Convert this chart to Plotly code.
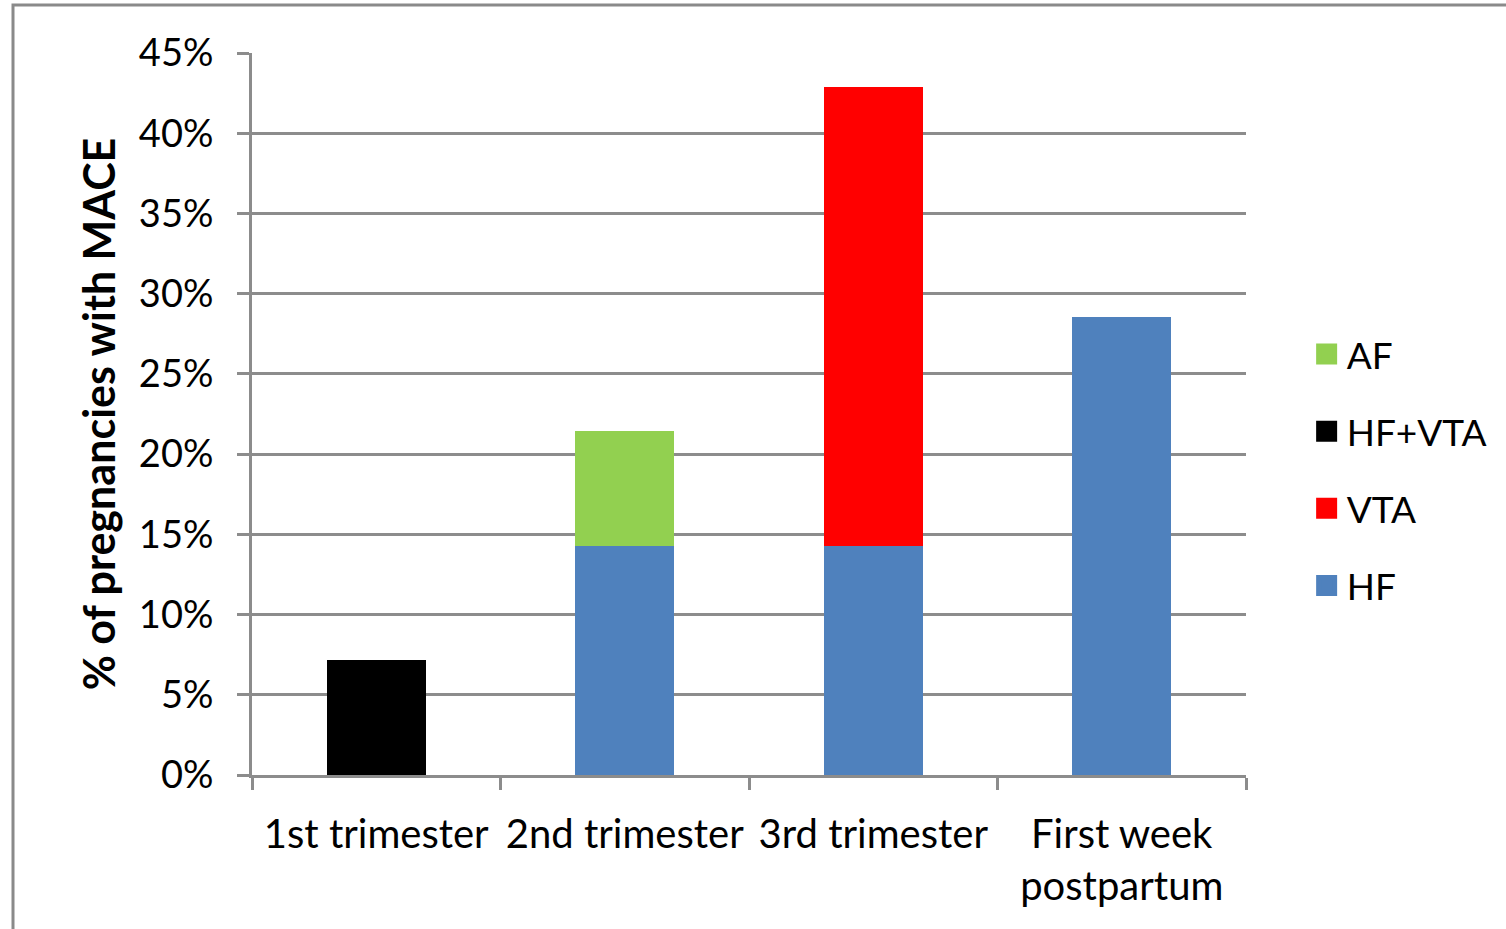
import plotly.graph_objects as go

# Share of pregnancies with a major adverse cardiac event, by period
periods = ["1st trimester", "2nd trimester", "3rd trimester", "First week<br>postpartum"]
hf = [0, 14.29, 14.29, 28.57]
vta = [0, 0, 28.57, 0]
hf_vta = [7.14, 0, 0, 0]
af = [0, 7.14, 0, 0]
y_ticks = [0, 5, 10, 15, 20, 25, 30, 35, 40, 45]
y_tick_text = [f"{v}%" for v in y_ticks]

series = [
    ("HF", hf, "#4f81bd"),
    ("VTA", vta, "#ff0000"),
    ("HF+VTA", hf_vta, "#000000"),
    ("AF", af, "#92d050"),
]

FONT = "Lato"
GRID = "#8c8c8c"

fig = go.Figure()
for name, vals, color in series:
    fig.add_trace(go.Bar(
        x=periods, y=vals, name=name, marker=dict(color=color, line=dict(width=0)),
        width=0.4, showlegend=False,
    ))

# Legend entries with larger square swatches, listed top-down AF -> HF
for name, vals, color in reversed(series):
    fig.add_trace(go.Scatter(
        x=[None], y=[None], mode="markers", name=name, legendgroup=name,
        marker=dict(symbol="square", size=16, color=color,
                    line=dict(color=color, width=5)),
    ))

fig.update_layout(
    barmode="stack",
    width=1506, height=929,
    margin=dict(l=252, r=260, t=53, b=154, autoexpand=False),
    paper_bgcolor="white", plot_bgcolor="white",
    font=dict(family=FONT, size=38, color="#000000"),
    showlegend=True,
    legend=dict(
        x=1.061, xanchor="left", y=0.4224, yanchor="middle",
        font=dict(family=FONT, size=37, color="#000000"),
        tracegroupgap=26, itemwidth=30, itemsizing="trace",
        bgcolor="rgba(0,0,0,0)",
    ),
    xaxis=dict(
        type="category", tickson="boundaries", ticks="outside", ticklen=12,
        tickwidth=3, tickcolor=GRID, showline=True, linecolor=GRID, linewidth=3,
        showgrid=False, tickfont=dict(family=FONT, size=40, color="#000000"),
        ticklabelstandoff=22, range=[-0.5, 3.5], tickangle=0, automargin=False,
    ),
    yaxis=dict(
        range=[0, 45], tickvals=y_ticks, ticktext=y_tick_text, ticks="outside",
        ticklen=12, tickwidth=3, tickcolor=GRID, showline=True, linecolor=GRID,
        linewidth=3, showgrid=True, gridcolor=GRID, gridwidth=3, zeroline=False,
        tickfont=dict(family=FONT, size=38, color="#000000"),
        ticklabelstandoff=16, automargin=False,
        title=dict(text="<b>% of pregnancies with MACE</b>", standoff=10,
                   font=dict(family=FONT, size=43, color="#000000")),
    ),
)

# Gray outer frame of the chart area
fig.add_shape(type="rect", xref="paper", yref="paper",
              x0=(13 - 252) / 994, x1=(1520 - 252) / 994,
              y0=(775 - 940) / 722, y1=(775 - 5) / 722,
              line=dict(color="#8a8a8a", width=3), fillcolor="rgba(0,0,0,0)",
              layer="below")

fig.write_html("out.html")
